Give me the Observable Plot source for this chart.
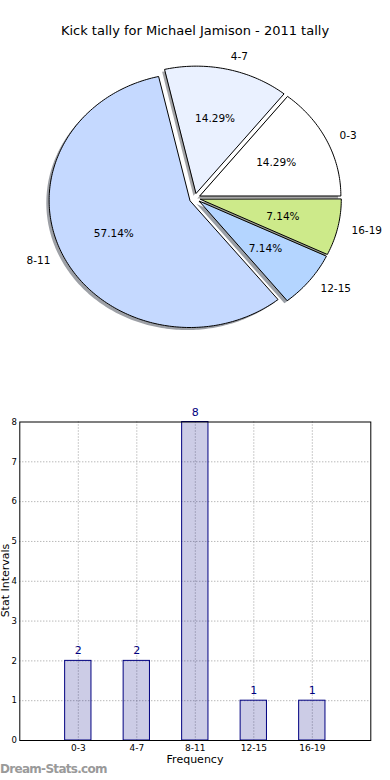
<!DOCTYPE html>
<html>
<head>
<meta charset="utf-8">
<script src="https://cdn.jsdelivr.net/npm/d3@7"></script>
<script src="https://cdn.jsdelivr.net/npm/@observablehq/plot@0.6"></script>
<style>
  body { margin: 0; background: #fff; font-family: "DejaVu Sans", sans-serif; }
  #root { position: relative; width: 390px; height: 780px; overflow: hidden; background: #fff; }
  .abs { position: absolute; white-space: nowrap; }
  #root svg { position: absolute; overflow: visible; }
</style>
</head>
<body>
<div id="root"></div>
<script>
// ---- data ----
const categories = ["0-3", "4-7", "8-11", "12-15", "16-19"];
const counts = [2, 2, 8, 1, 1];
const pieColors = ["#ffffff", "#eaf1ff", "#c5d9ff", "#b4d5ff", "#cdea8a"];
const yTickValues = [0, 1, 2, 3, 4, 5, 6, 7, 8];
const titleText = "Kick tally for Michael Jamison - 2011 tally";
const xTitle = "Frequency";
const yTitle = "Stat Intervals";
const watermarkText = "Dream-Stats.com";

// ---- pie geometry (matplotlib-like: startangle 0, counter-clockwise) ----
const total = d3.sum(counts);
const explode = 0.04, labelDist = 1.1, pctDist = 0.6, shadowOff = -0.02;
let acc = 0;
const slices = categories.map((c, i) => {
  const t1 = acc / total * 2 * Math.PI;
  acc += counts[i];
  const t2 = acc / total * 2 * Math.PI;
  const tm = (t1 + t2) / 2;
  return {
    c, i, t1, t2, tm,
    ox: explode * Math.cos(tm), oy: explode * Math.sin(tm),
    pct: (counts[i] / total * 100).toFixed(2) + "%"
  };
});
function wedgePts(s, dx, dy) {
  const pts = [{x: s.ox + dx, y: s.oy + dy}];
  const n = Math.max(4, Math.ceil((s.t2 - s.t1) / (Math.PI / 180)));
  for (let k = 0; k <= n; k++) {
    const t = s.t1 + (s.t2 - s.t1) * k / n;
    pts.push({x: s.ox + dx + Math.cos(t), y: s.oy + dy + Math.sin(t)});
  }
  return pts;
}
function shadowColor(col) {
  const c = d3.rgb(col);
  return d3.rgb(c.r * 0.3, c.g * 0.3, c.b * 0.3).formatHex();
}

const root = document.getElementById("root");

// title
const title = document.createElement("div");
title.className = "abs";
title.textContent = titleText;
Object.assign(title.style, {left: "0px", top: "23px", width: "390px", textAlign: "center", fontSize: "13px", lineHeight: "15px", color: "#000"});
root.appendChild(title);

// pie
const pieTop = 40, pieH = 310;
const cxPx = 194.5, cyPx = 197.7 - pieTop, rx = 140.8, ry = 127.1;
const pie = Plot.plot({
  width: 390, height: pieH, margin: 0,
  x: {domain: [-cxPx / rx, (390 - cxPx) / rx], axis: null},
  y: {domain: [-(pieH - cyPx) / ry, cyPx / ry], axis: null},
  style: {fontFamily: "DejaVu Sans", fontSize: "10.5px", color: "#000", background: "transparent"},
  marks: [
    ...slices.map(s => Plot.line(wedgePts(s, shadowOff, shadowOff), {
      x: "x", y: "y", curve: "linear-closed", fill: shadowColor(pieColors[s.i]), fillOpacity: 0.5, stroke: "none"
    })),
    ...slices.map(s => Plot.line(wedgePts(s, 0, 0), {
      x: "x", y: "y", curve: "linear-closed", fill: pieColors[s.i], stroke: "#000", strokeWidth: 1, strokeLinejoin: "miter"
    })),
    Plot.text(slices.filter(s => Math.cos(s.tm) > 0), {
      x: s => s.ox + labelDist * Math.cos(s.tm), y: s => s.oy + labelDist * Math.sin(s.tm),
      text: "c", textAnchor: "start", lineAnchor: "middle", fill: "#000"
    }),
    Plot.text(slices.filter(s => Math.cos(s.tm) <= 0), {
      x: s => s.ox + labelDist * Math.cos(s.tm), y: s => s.oy + labelDist * Math.sin(s.tm),
      text: "c", textAnchor: "end", lineAnchor: "middle", fill: "#000"
    }),
    Plot.text(slices, {
      x: s => s.ox + pctDist * Math.cos(s.tm), y: s => s.oy + pctDist * Math.sin(s.tm),
      text: "pct", textAnchor: "middle", lineAnchor: "middle", fill: "#000"
    })
  ]
});
pie.style.left = "0px";
pie.style.top = pieTop + "px";
root.appendChild(pie);

// bar chart
const barTop = 400, barH = 380;
const barData = categories.map((c, i) => ({c, pos: i + 1, v: counts[i]}));
const halfW = 0.225;
const bars = Plot.plot({
  width: 390, height: barH,
  marginTop: 21.5, marginBottom: 40, marginLeft: 19.3, marginRight: 19.7,
  x: {domain: [0, categories.length + 1], axis: null, label: null},
  y: {domain: [0, 8], axis: null, label: null},
  style: {fontFamily: "DejaVu Sans", fontSize: "9px", color: "#000", background: "transparent"},
  marks: [
    Plot.gridY(yTickValues.slice(1, -1), {stroke: "#9a9a9a", strokeOpacity: 1, strokeDasharray: "1,2"}),
    Plot.gridX(barData.map(d => d.pos), {stroke: "#9a9a9a", strokeOpacity: 1, strokeDasharray: "1,2"}),
    Plot.rect(barData, {
      x1: d => d.pos - halfW, x2: d => d.pos + halfW, y1: 0, y2: "v",
      fill: "navy", fillOpacity: 0.2, stroke: "navy", strokeWidth: 1
    }),
    Plot.text(barData, {x: "pos", y: "v", text: d => String(d.v), dy: -6.5, lineAnchor: "bottom", fill: "navy", fontSize: 11}),
    Plot.axisY(yTickValues, {tickSize: 0, tickPadding: 3, fontSize: 8.5, label: null}),
    Plot.axisX(barData.map(d => d.pos), {tickSize: 0, tickPadding: 4, fontSize: 9, label: null, tickFormat: p => categories[p - 1]}),
    Plot.frame({stroke: "#000", strokeWidth: 1})
  ]
});
bars.style.left = "0px";
bars.style.top = barTop + "px";
root.appendChild(bars);

// axis titles
const xt = document.createElement("div");
xt.className = "abs";
xt.textContent = xTitle;
Object.assign(xt.style, {left: "0px", top: "752.7px", width: "390px", textAlign: "center", fontSize: "11px", lineHeight: "13px", color: "#000"});
root.appendChild(xt);

const yt = document.createElement("div");
yt.className = "abs";
yt.textContent = yTitle;
Object.assign(yt.style, {left: "-95px", top: "574px", width: "200px", height: "13px", textAlign: "center", fontSize: "11px", lineHeight: "13px", color: "#000", transform: "rotate(-90deg)", transformOrigin: "50% 50%"});
root.appendChild(yt);

// watermark
const wm = document.createElement("div");
wm.className = "abs";
wm.textContent = watermarkText;
Object.assign(wm.style, {left: "0px", top: "762px", fontSize: "12px", lineHeight: "14px", color: "#9a9a9a", fontWeight: "bold", letterSpacing: "-0.7px"});
root.appendChild(wm);
</script>
</body>
</html>
